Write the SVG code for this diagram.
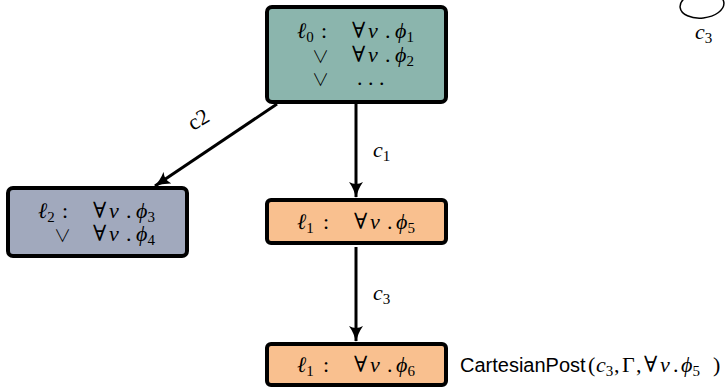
<svg xmlns="http://www.w3.org/2000/svg" width="727" height="388" viewBox="0 0 727 388">
<defs>
<style>
.box{stroke:#000;stroke-width:4}
.teal{fill:#8bb5ad}
.slate{fill:#a1a9bd}
.orange{fill:#f9c08f}
text{font-family:"Liberation Serif","DejaVu Serif",serif;font-size:22px;fill:#000}
.it{font-style:italic}
.sub{font-size:15px;font-style:normal}
.op{font-family:"Noto Sans CJK JP","DejaVu Sans",sans-serif;font-size:17px;font-weight:300}
.sans{font-family:"Liberation Sans",Arial,sans-serif;font-size:20px}
.edge{stroke:#000;stroke-width:3;fill:none}
</style>
<marker id="arr" markerUnits="userSpaceOnUse" viewBox="0 -7 16 14" markerWidth="16" markerHeight="14" refX="15" refY="0" orient="auto">
<path d="M0,-7 Q7,-2 16,0 Q7,2 0,7 Q4,0 0,-7 Z" fill="#000"/>
</marker>
</defs>

<g id="connectors">
<line class="edge" x1="356" y1="104" x2="356" y2="197" marker-end="url(#arr)"/>
<line class="edge" x1="277" y1="104" x2="155" y2="186" marker-end="url(#arr)"/>
<line class="edge" x1="356" y1="247" x2="356" y2="341" marker-end="url(#arr)"/>
<text class="it" x="373" y="157">c<tspan class="sub" dy="4">1</tspan></text>
<text x="0" y="0" transform="translate(193,131) rotate(-30)">c2</text>
<text class="it" x="373" y="300">c<tspan class="sub" dy="4">3</tspan></text>
<ellipse cx="702" cy="5" rx="22" ry="13" transform="rotate(-6 702 5)" fill="none" stroke="#000" stroke-width="1.5"/>
<text class="it" x="695" y="39">c<tspan class="sub" dy="4">3</tspan></text>
</g>

<g id="node-l0">
<rect class="box teal" x="267" y="7" width="179" height="95" rx="5"/>
<text class="it" x="297" y="38">ℓ<tspan class="sub" dy="4">0</tspan></text>
<text x="321" y="38">:</text>
<text x="352" y="38">∀</text>
<text class="it" x="368" y="38">v</text>
<text x="385" y="38">.</text>
<text class="it" x="395" y="38">ϕ<tspan class="sub" dy="4">1</tspan></text>
<text class="op" x="312" y="63">∨</text>
<text x="352" y="62">∀</text>
<text class="it" x="368" y="62">v</text>
<text x="385" y="62">.</text>
<text class="it" x="395" y="62">ϕ<tspan class="sub" dy="4">2</tspan></text>
<text class="op" x="312" y="86">∨</text>
<text x="357" y="85">. . .</text>
</g>

<g id="node-l2">
<rect class="box slate" x="8" y="188" width="179" height="68" rx="5"/>
<text class="it" x="38" y="218">ℓ<tspan class="sub" dy="4">2</tspan></text>
<text x="62" y="218">:</text>
<text x="93" y="218">∀</text>
<text class="it" x="109" y="218">v</text>
<text x="126" y="218">.</text>
<text class="it" x="136" y="218">ϕ<tspan class="sub" dy="4">3</tspan></text>
<text class="op" x="54" y="242">∨</text>
<text x="93" y="241">∀</text>
<text class="it" x="109" y="241">v</text>
<text x="126" y="241">.</text>
<text class="it" x="136" y="241">ϕ<tspan class="sub" dy="4">4</tspan></text>
</g>

<g id="node-l1a">
<rect class="box orange" x="267" y="200" width="179" height="43" rx="4"/>
<text class="it" x="297" y="229">ℓ<tspan class="sub" dy="4">1</tspan></text>
<text x="323" y="229">:</text>
<text x="354" y="229">∀</text>
<text class="it" x="370" y="229">v</text>
<text x="387" y="229">.</text>
<text class="it" x="396" y="229">ϕ<tspan class="sub" dy="4">5</tspan></text>
</g>

<g id="node-l1b">
<rect class="box orange" x="267" y="344" width="179" height="41" rx="4"/>
<text class="it" x="297" y="372">ℓ<tspan class="sub" dy="4">1</tspan></text>
<text x="323" y="372">:</text>
<text x="354" y="372">∀</text>
<text class="it" x="370" y="372">v</text>
<text x="387" y="372">.</text>
<text class="it" x="396" y="372">ϕ<tspan class="sub" dy="4">6</tspan></text>
</g>

<g id="label-cartesian">
<text class="sans" x="460" y="372">CartesianPost</text>
<text x="588" y="372">(</text>
<text class="it" x="596" y="372">c<tspan class="sub" dy="4">3</tspan></text>
<text x="614" y="372">,</text>
<text x="622" y="372">Γ</text>
<text x="636" y="372">,</text>
<text x="644" y="372">∀</text>
<text class="it" x="660" y="372">v</text>
<text x="673" y="372">.</text>
<text class="it" x="681" y="372">ϕ<tspan class="sub" dy="4">5</tspan></text>
<text x="713" y="372">)</text>
</g>
</svg>
